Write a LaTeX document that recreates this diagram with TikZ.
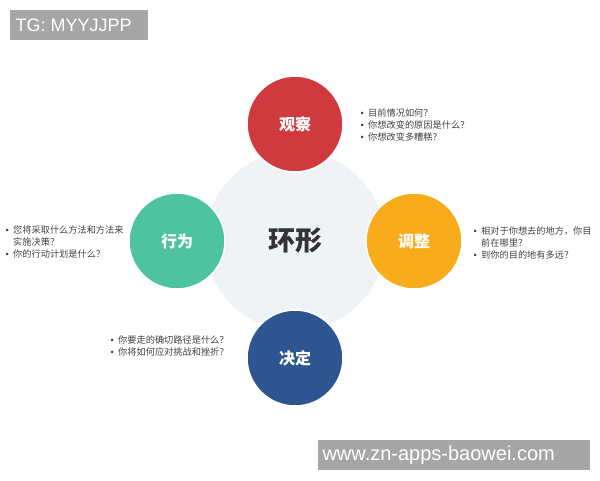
\documentclass[tikz,border=0pt]{standalone}
\usepackage{fontspec}
\setmainfont{Noto Sans CJK SC}
\newfontfamily\tagfont{Liberation Sans}
\usepackage{array}

\definecolor{guancha}{HTML}{CF3A3F}
\definecolor{tiaozheng}{HTML}{F9AC1B}
\definecolor{jueding}{HTML}{2F5591}
\definecolor{xingwei}{HTML}{4DC3A0}
\definecolor{huanbg}{HTML}{F0F3F6}
\definecolor{tagbg}{HTML}{A6A6A6}
\definecolor{notetext}{HTML}{404040}

% bullet list inside a node
\newcommand{\notelist}[1]{{\renewcommand{\arraystretch}{1}%
  \begin{tabular}{@{}>{\centering\arraybackslash}p{4pt}@{\hspace{4pt}}l@{}}#1\end{tabular}}}
\newcommand{\notebullet}{{\tagfont •}}
\newcommand{\wq}{\makebox[1em][c]{？}}
\newcommand{\wc}{\makebox[1em][l]{，}}

\begin{document}
\begin{tikzpicture}[x=1pt,y=-1pt,
  step circle/.style={shape=circle,draw=white,line width=1.5pt,minimum size=96pt,
    inner sep=0pt,text=white,font=\fontsize{16}{18}\selectfont\bfseries},
  note/.style={anchor=west,inner sep=0pt,text=notetext,font=\fontsize{9.2}{12}\selectfont},
  tag/.style={fill=tagbg,text=white,inner sep=0pt,anchor=north west}]

	\useasboundingbox (0,0) rectangle (600,480);

	\node[shape=circle,fill=huanbg,minimum size=180pt,text=black!80,
	  font=\fontsize{27}{30}\selectfont\bfseries] (huan) at (295, 241) {环形};

	\node[step circle,fill=guancha] (guancha) at (295, 124) {观察};
	\node[step circle,fill=tiaozheng] (tiaozheng) at (414, 241) {调整};
	\node[step circle,fill=jueding] (jueding) at (295, 358) {决定};
	\node[step circle,fill=xingwei] (xingwei) at (177, 241) {行为};

	\node[note] (guancha note) at (360, 126) {\notelist{%
	  \notebullet & 目前情况如何\wq\\
	  \notebullet & 你想改变的原因是什么\wq\\
	  \notebullet & 你想改变多糟糕\wq}};
	\node[note] (tiaozheng note) at (473, 244) {\notelist{%
	  \notebullet & 相对于你想去的地方\wc 你目\\
	      & 前在哪里\wq\\
	  \notebullet & 到你的目的地有多远\wq}};
	\node[note] (jueding note) at (110, 347) {\notelist{%
	  \notebullet & 你要走的确切路径是什么\wq\\
	  \notebullet & 你将如何应对挑战和挫折\wq}};
	\node[note] (xingwei note) at (5, 243) {\notelist{%
	  \notebullet & 您将采取什么方法和方法来\\
	      & 实施决策\wq\\
	  \notebullet & 你的行动计划是什么\wq}};

	\node[tag,minimum width=138pt,minimum height=30pt] (tg) at (10, 10) {};
	\node[anchor=west,text=white,font=\tagfont\fontsize{18}{20}\selectfont] (tg text) at (12, 25) {TG: MYYJJPP};
	\node[tag,minimum width=272pt,minimum height=30pt] (site) at (318, 440) {};
	\node[anchor=west,text=white,font=\tagfont\fontsize{20}{22}\selectfont] (site text) at (319, 455) {www.zn-apps-baowei.com};
\end{tikzpicture}
\end{document}
